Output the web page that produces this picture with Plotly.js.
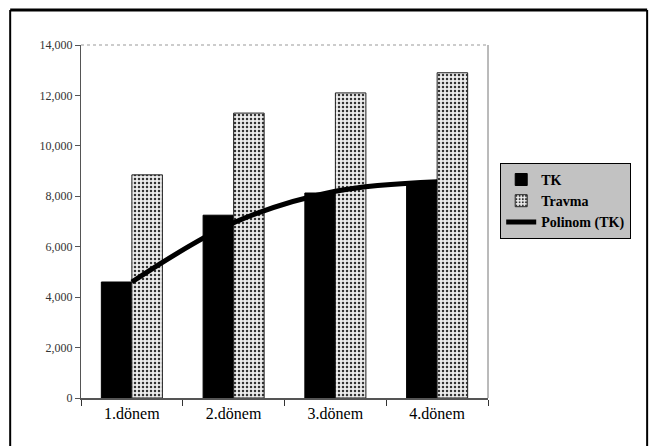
<!DOCTYPE html>
<html>
<head>
<meta charset="utf-8">
<script src="https://cdn.plot.ly/plotly-3.0.1.min.js"></script>
<style>html,body{margin:0;padding:0;background:#fff;}#chart{width:654px;height:446px;}</style>
</head>
<body>
<div id="chart"></div>
<script>
const categories = ["1.dönem", "2.dönem", "3.dönem", "4.dönem"];
const tkValues = [4600, 7250, 8130, 8570];
const travmaValues = [8850, 11300, 12100, 12900];
const trendValues = [4600, 6950, 8200, 8580];
const yTickVals = [0, 2000, 4000, 6000, 8000, 10000, 12000, 14000];
const yTickText = ["0", "2,000", "4,000", "6,000", "8,000", "10,000", "12,000", "14,000"];

const serif = "Times New Roman, Liberation Serif, DejaVu Serif, serif";

const traces = [
  {
    type: "bar", name: "TK", x: categories, y: tkValues,
    marker: {color: "#000", line: {color: "#000", width: 1}}
  },
  {
    type: "bar", name: "Travma", x: categories, y: travmaValues,
    marker: {
      color: "#ededed",
      pattern: {shape: ".", size: 4, solidity: 0.3, fgcolor: "#333", bgcolor: "#ededed"},
      line: {color: "#222", width: 1}
    }
  },
  {
    type: "scatter", mode: "lines", name: "Polinom (TK)", x: categories, y: trendValues,
    line: {color: "#000", width: 5, shape: "spline", smoothing: 1}
  }
];

const layout = {
  width: 654, height: 446,
  margin: {l: 81, r: 166, t: 45, b: 48},
  paper_bgcolor: "#fff", plot_bgcolor: "#fff",
  font: {family: serif},
  barmode: "group", bargap: 0.4, bargroupgap: 0,
  showlegend: true,
  legend: {
    x: 1.03, y: 0.666, xanchor: "left", yanchor: "top",
    bgcolor: "#c2c2c2", bordercolor: "#000", borderwidth: 1,
    font: {family: serif, size: 14, color: "#000", weight: "bold"},
    tracegroupgap: 2
  },
  xaxis: {
    type: "category",
    tickfont: {family: serif, size: 16, color: "#000"},
    showline: true, linecolor: "#555", linewidth: 1.5,
    ticks: "outside", tickson: "boundaries", ticklen: 6, tickcolor: "#333",
    showgrid: false, zeroline: false
  },
  yaxis: {
    range: [0, 14000],
    tickvals: yTickVals, ticktext: yTickText,
    tickfont: {family: serif, size: 12, color: "#333"},
    showline: true, linecolor: "#555", linewidth: 1,
    ticks: "outside", ticklen: 5, tickcolor: "#555",
    showgrid: false, zeroline: false
  },
  shapes: [
    {type: "line", xref: "paper", yref: "paper", x0: 0, x1: 1, y0: 1, y1: 1, line: {color: "#999", width: 1, dash: "dot"}, layer: "below"},
    {type: "line", xref: "paper", yref: "paper", x0: 1, x1: 1, y0: 0, y1: 1, line: {color: "#777", width: 1}, layer: "below"},
    {type: "line", xref: "paper", yref: "paper", x0: -0.174, x1: 1.391, y0: 1.0992, y1: 1.0992, line: {color: "#000", width: 3}},
    {type: "line", xref: "paper", yref: "paper", x0: -0.174, x1: -0.174, y0: -0.3, y1: 1.0992, line: {color: "#000", width: 2}},
    {type: "line", xref: "paper", yref: "paper", x0: 1.391, x1: 1.391, y0: -0.3, y1: 1.0992, line: {color: "#000", width: 2}}
  ]
};

Plotly.newPlot("chart", traces, layout, {displayModeBar: false, staticPlot: true});
</script>
</body>
</html>
